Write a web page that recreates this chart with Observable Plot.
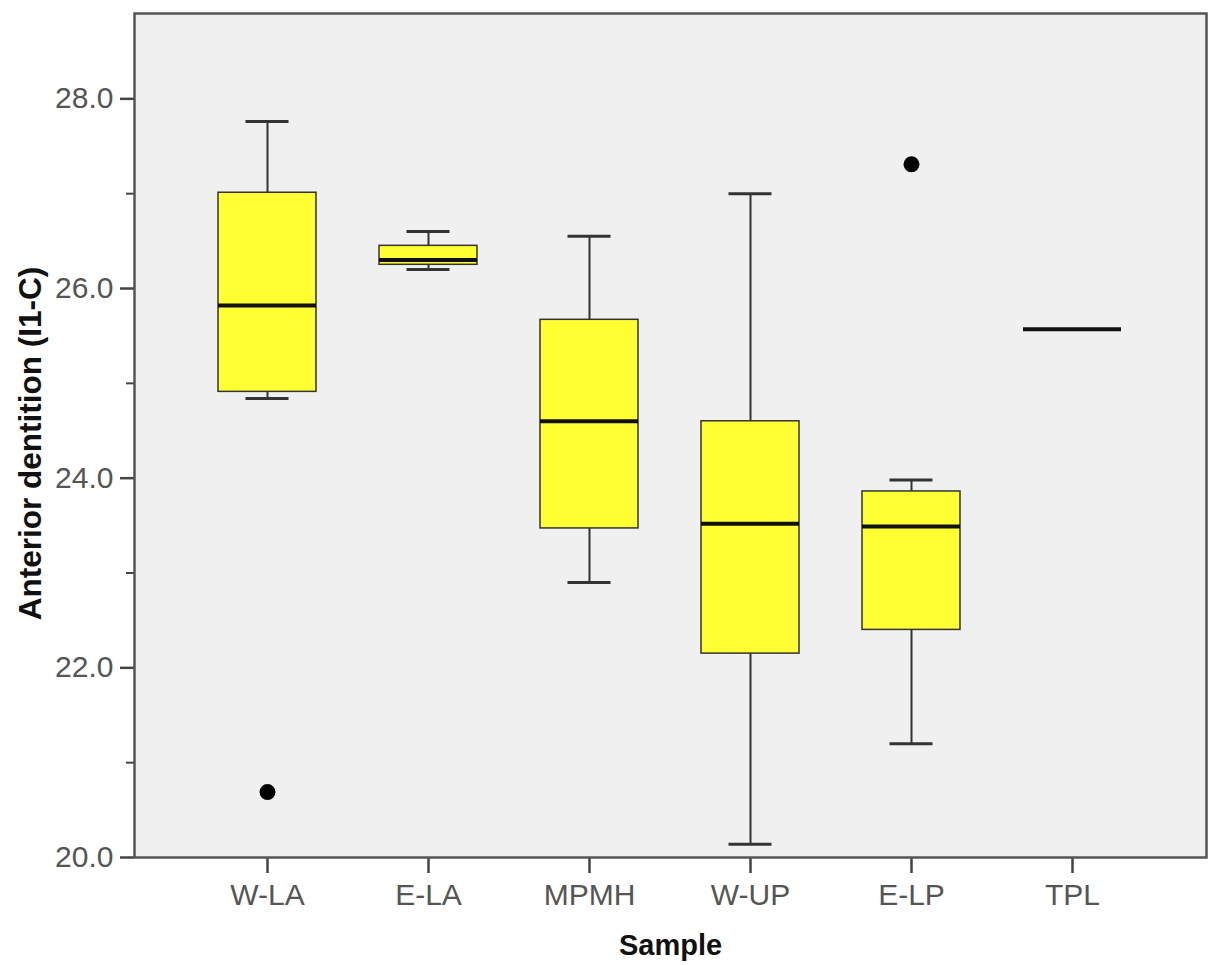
<!DOCTYPE html>
<html>
<head>
<meta charset="utf-8">
<script src="https://cdn.jsdelivr.net/npm/d3@7"></script>
<script src="https://cdn.jsdelivr.net/npm/@observablehq/plot@0.6"></script>
<style>
  html, body { margin: 0; padding: 0; background: #ffffff; }
  #chart svg { display: block; }
</style>
</head>
<body>
<div id="chart"></div>
<script>
// Categories
const samples = ["W-LA", "E-LA", "MPMH", "W-UP", "E-LP", "TPL"];
// Box-plot statistics (null where not drawn)
const whiskerLow  = [24.84, 26.20, 22.90, 20.14, 21.20, null];
const q1          = [24.91, 26.25, 23.47, 22.15, 22.40, null];
const median      = [25.82, 26.30, 24.60, 23.52, 23.49, 25.57];
const q3          = [27.01, 26.45, 25.67, 24.60, 23.86, null];
const whiskerHigh = [27.76, 26.60, 26.55, 27.00, 23.98, null];
// Outliers
const outlierSample = ["W-LA", "E-LP"];
const outlierValue  = [20.69, 27.31];
// Tick values
const majorTicks = [20, 22, 24, 26, 28];
const minorTicks = [21, 23, 25, 27];

const stats = samples.map((s, i) => ({
  sample: s, lo: whiskerLow[i], q1: q1[i], med: median[i], q3: q3[i], hi: whiskerHigh[i]
}));
const boxes = stats.filter(d => d.q1 != null);
const outliers = outlierSample.map((s, i) => ({sample: s, value: outlierValue[i]}));

const font = "'Liberation Sans', Arial, sans-serif";

const chart = Plot.plot({
  width: 1208,
  height: 965,
  marginLeft: 134,
  marginRight: 2,
  marginTop: 13,
  marginBottom: 108,
  style: {fontFamily: font, background: "#ffffff", overflow: "visible"},
  x: {type: "band", domain: samples, paddingInner: 0.391, paddingOuter: 0.5245, label: null},
  y: {domain: [20, 28.9], label: null},
  marks: [
    Plot.frame({fill: "#f0f0f0"}),
    // whiskers
    Plot.ruleX(boxes, {x: "sample", y1: "lo", y2: "q1", stroke: "#333", strokeWidth: 2}),
    Plot.ruleX(boxes, {x: "sample", y1: "q3", y2: "hi", stroke: "#333", strokeWidth: 2}),
    Plot.tickY(boxes, {x: "sample", y: "lo", stroke: "#333", strokeWidth: 3, insetLeft: 27.5, insetRight: 27.5}),
    Plot.tickY(boxes, {x: "sample", y: "hi", stroke: "#333", strokeWidth: 3, insetLeft: 27.5, insetRight: 27.5}),
    // boxes
    Plot.barY(boxes, {x: "sample", y1: "q1", y2: "q3", fill: "#ffff33", stroke: "#333", strokeWidth: 1.5}),
    // medians
    Plot.tickY(stats, {x: "sample", y: "med", stroke: "#111", strokeWidth: 4}),
    // outliers
    Plot.dot(outliers, {x: "sample", y: "value", r: 8, fill: "#000", stroke: "none"}),
    // axes
    Plot.axisY({ticks: majorTicks, tickSize: 14, tickPadding: 7, tickFormat: d => d.toFixed(1),
      fontSize: 30, fill: "#555", stroke: "#444", strokeWidth: 2.5, label: null}),
    Plot.axisY({ticks: minorTicks, tickSize: 8, tickFormat: () => "", stroke: "#444", strokeWidth: 2, label: null}),
    Plot.axisX({tickSize: 16, tickPadding: 10, fontSize: 30, fill: "#555", stroke: "#444", strokeWidth: 2.5, label: null}),
    Plot.frame({stroke: "#555", strokeWidth: 2.5}),
    // axis titles
    Plot.text(["Sample"], {frameAnchor: "bottom", text: d => d, dy: 88, lineAnchor: "middle",
      fontSize: 29, fontWeight: "bold", fill: "#111"}),
    Plot.text(["Anterior dentition (I1-C)"], {frameAnchor: "left", text: d => d, dx: -104, dy: 8,
      rotate: -90, textAnchor: "middle", lineAnchor: "middle",
      fontSize: 31.5, fontWeight: "bold", fill: "#111"})
  ]
});

document.getElementById("chart").appendChild(chart);
</script>
</body>
</html>
